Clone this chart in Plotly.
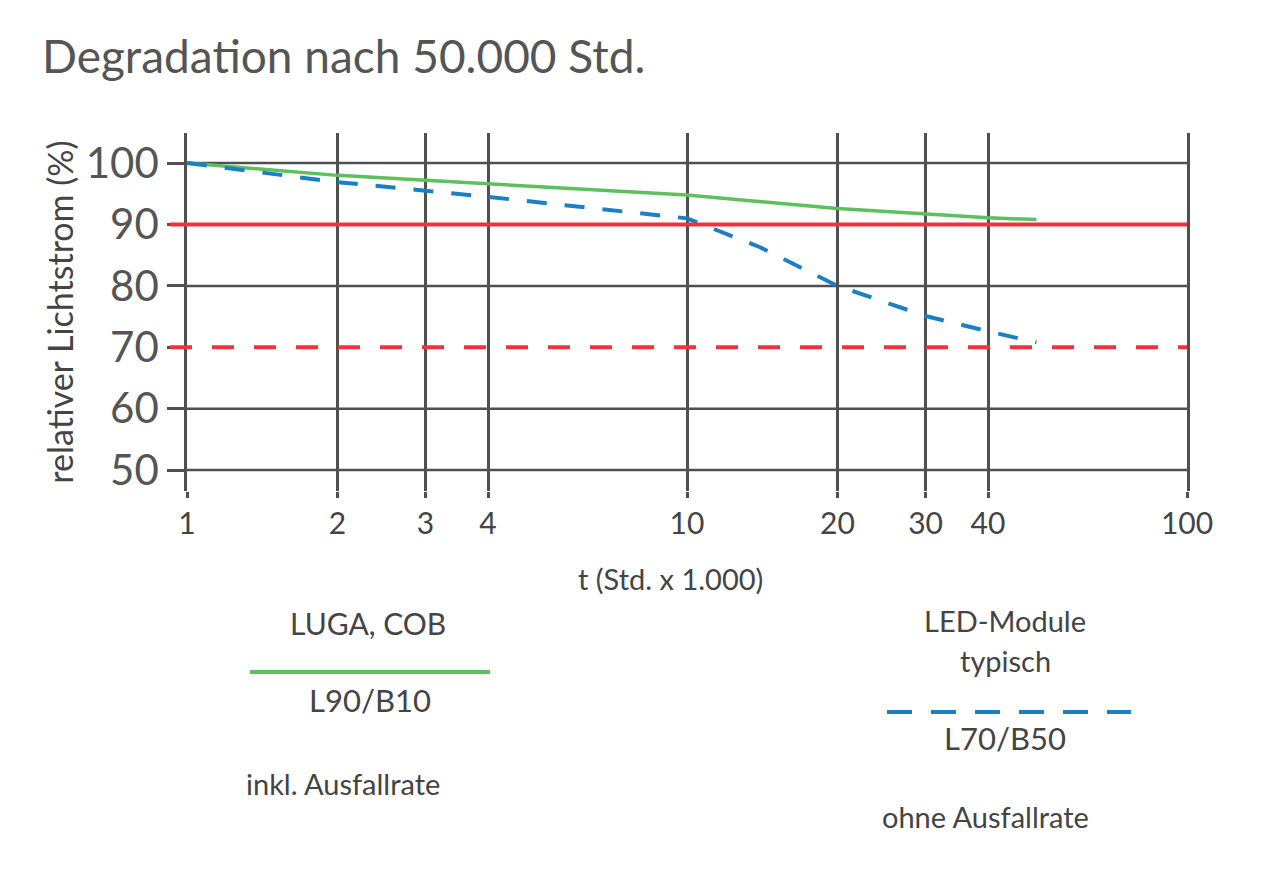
import plotly.graph_objects as go

# ---- data ----
t_green = [1, 2, 3, 4, 10, 20, 30, 40, 50]            # t in Std. x 1.000
flux_green = [100, 98.0, 97.2, 96.6, 94.8, 92.6, 91.7, 91.1, 90.8]

t_blue = [1, 2, 3, 4, 10, 14, 20, 30, 40, 50]
flux_blue = [100, 96.9, 95.5, 94.5, 91.0, 86.3, 80.0, 75.1, 72.6, 70.8]

limit_l90 = 90
limit_l70 = 70

x_ticks = [1, 2, 3, 4, 10, 20, 30, 40, 100]
x_tick_labels = ["1", "2", "3", "4", "10", "20", "30", "40", "100"]
y_ticks = [50, 60, 70, 80, 90, 100]
y_tick_labels = ["50", "60", "70", "80", "90", "100"]

GREEN = "#5cc05c"
BLUE = "#1a80c4"
RED = "#f0323c"
GRID = "#505050"
TEXT = "#444444"
FONT = "Lato"

fig = go.Figure()

fig.add_trace(go.Scatter(x=t_green, y=flux_green, mode="lines",
                         line=dict(color=GREEN, width=3.5),
                         showlegend=False, hoverinfo="skip"))
fig.add_trace(go.Scatter(x=t_blue, y=flux_blue, mode="lines",
                         line=dict(color=BLUE, width=4, dash="20px,18px"),
                         showlegend=False, hoverinfo="skip"))

# grey horizontal grid lines (the threshold levels get red lines instead)
for v in y_ticks:
    if v in (limit_l90, limit_l70):
        continue
    fig.add_shape(type="line", xref="paper", yref="y", x0=0, x1=1, y0=v, y1=v,
                  line=dict(color=GRID, width=2.5), layer="below")

fig.add_shape(type="line", xref="paper", yref="y", x0=-0.017, x1=1,
              y0=limit_l90, y1=limit_l90, line=dict(color=RED, width=4))
fig.add_shape(type="line", xref="paper", yref="y", x0=-0.017, x1=1,
              y0=limit_l70, y1=limit_l70,
              line=dict(color=RED, width=4, dash="22px,20px"))

# legend-like blocks below the chart
fig.add_shape(type="line", xref="paper", yref="paper",
              x0=(250 - 187) / 1000, x1=(490 - 187) / 1000,
              y0=(491 - 672) / 358, y1=(491 - 672) / 358,
              line=dict(color=GREEN, width=4))
fig.add_shape(type="line", xref="paper", yref="paper",
              x0=(887 - 187) / 1000, x1=(1131 - 187) / 1000,
              y0=(491 - 712) / 358, y1=(491 - 712) / 358,
              line=dict(color=BLUE, width=4, dash="25px,19px"))

def note(text, xc, yc, size):
    fig.add_annotation(text=text, xref="paper", yref="paper",
                       x=(xc - 187) / 1000, y=(491 - yc) / 358,
                       xanchor="center", yanchor="middle", showarrow=False,
                       font=dict(family=FONT, size=size, color=TEXT))

note("t (Std. x 1.000)", 670, 578, 29)
note("LUGA, COB", 368, 623, 30)
note("L90/B10", 370, 700, 31)
note("inkl. Ausfallrate", 343, 783, 29)
note("LED-Module", 1005, 620, 29)
note("typisch", 1005, 660, 29)
note("L70/B50", 1005, 738, 31)
note("ohne Ausfallrate", 985, 816, 29)

fig.update_layout(
    width=1280, height=873,
    margin=dict(l=179, r=101, t=125, b=390),
    paper_bgcolor="white", plot_bgcolor="white",
    title=dict(text="Degradation nach 50.000 Std.", x=34 / 1280, xanchor="left",
               y=1 - 49 / 873, yanchor="middle",
               font=dict(family=FONT, size=46, color="#555555")),
    xaxis=dict(type="log", range=[0, 2], tickvals=x_ticks, ticktext=x_tick_labels,
               showgrid=True, gridcolor=GRID, gridwidth=2.5,
               showline=False, zeroline=False,
               ticks="outside", ticklen=6, tickcolor=GRID, tickwidth=2.5,
               tickfont=dict(family=FONT, size=30, color=TEXT)),
    yaxis=dict(range=[46.6, 104.9], tickvals=y_ticks, ticktext=y_tick_labels,
               showgrid=False,
               showline=True, mirror=True, linecolor=GRID, linewidth=2.5,
               zeroline=False,
               ticks="outside", ticklen=17, tickcolor=GRID, tickwidth=2.5,
               tickfont=dict(family=FONT, size=42, color="#555555"),
               title=dict(text="relativer Lichtstrom (%)", standoff=2,
                          font=dict(family=FONT, size=34, color=TEXT))),
)

fig.write_html("out.html")
